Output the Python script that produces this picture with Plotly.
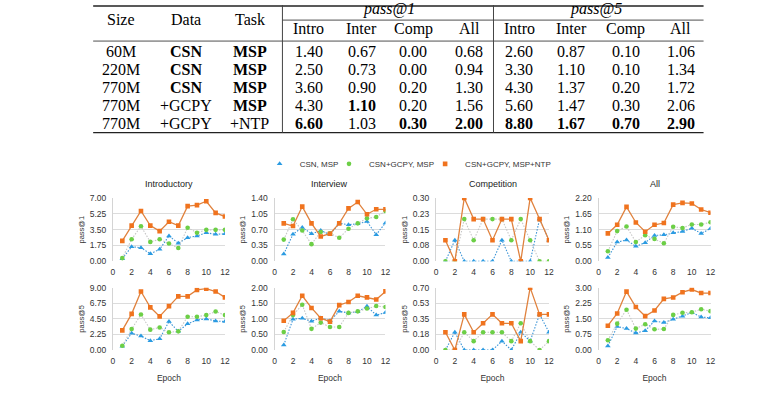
import plotly.graph_objects as go

# ---------------- Table data ----------------
table_size = ["60M", "220M", "770M", "770M", "770M"]
table_data = ["CSN", "CSN", "CSN", "+GCPY", "+GCPY"]
table_task = ["MSP", "MSP", "MSP", "MSP", "+NTP"]
metric_names = ["Intro", "Inter", "Comp", "All"]
p1_intro = [1.40, 2.50, 3.60, 4.30, 6.60]
p1_inter = [0.67, 0.73, 0.90, 1.10, 1.03]
p1_comp = [0.00, 0.00, 0.20, 0.20, 0.30]
p1_all = [0.68, 0.94, 1.30, 1.56, 2.00]
p5_intro = [2.60, 3.30, 4.30, 5.60, 8.80]
p5_inter = [0.87, 1.10, 1.37, 1.47, 1.67]
p5_comp = [0.10, 0.10, 0.20, 0.30, 0.70]
p5_all = [1.06, 1.34, 1.72, 2.06, 2.90]

# ---------------- Line chart data ----------------
epochs = list(range(1, 13))
series_names = ["CSN, MSP", "CSN+GCPY, MSP", "CSN+GCPY, MSP+NTP"]
panel_titles = ["Introductory", "Interview", "Competition", "All"]
row_titles = ["pass@1", "pass@5"]

intro_p1_csn = [0.29, 1.62, 1.51, 0.83, 1.33, 2.80, 2.01, 2.62, 2.80, 3.16, 2.98, 3.05]
intro_p1_gcpy = [0.36, 2.44, 3.88, 2.15, 2.44, 1.97, 1.47, 3.72, 3.16, 3.48, 3.48, 3.48]
intro_p1_ntp = [2.26, 3.95, 5.56, 3.95, 3.34, 4.38, 3.95, 6.10, 6.21, 6.64, 5.35, 4.95]

inter_p1_csn = [0.16, 0.60, 0.75, 0.61, 0.68, 0.59, 0.84, 0.81, 0.83, 0.88, 0.59, 0.85]
inter_p1_gcpy = [0.48, 0.93, 0.68, 0.38, 0.65, 0.62, 0.52, 0.72, 0.84, 0.95, 0.98, 1.11]
inter_p1_ntp = [0.84, 0.78, 1.21, 0.84, 0.55, 0.61, 0.84, 1.17, 1.31, 1.04, 1.15, 1.15]

comp_p1_csn = [0.00, 0.10, 0.00, 0.00, 0.00, 0.00, 0.10, 0.00, 0.00, 0.00, 0.20, 0.10]
comp_p1_gcpy = [0.00, 0.00, 0.20, 0.10, 0.20, 0.20, 0.20, 0.10, 0.20, 0.10, 0.00, 0.00]
comp_p1_ntp = [0.10, 0.00, 0.30, 0.20, 0.20, 0.10, 0.20, 0.20, 0.00, 0.30, 0.20, 0.10]

all_p1_csn = [0.13, 0.67, 0.74, 0.52, 0.65, 0.90, 0.92, 0.99, 1.04, 1.15, 0.97, 1.14]
all_p1_gcpy = [0.35, 1.05, 1.21, 0.67, 0.91, 0.78, 0.63, 1.20, 1.16, 1.28, 1.28, 1.36]
all_p1_ntp = [0.97, 1.27, 1.89, 1.35, 1.03, 1.27, 1.33, 1.97, 2.03, 2.01, 1.80, 1.69]

intro_p5_csn = [0.56, 2.42, 2.01, 1.35, 1.63, 4.10, 2.70, 3.78, 4.34, 4.48, 4.20, 4.10]
intro_p5_gcpy = [0.61, 3.03, 5.13, 2.94, 3.26, 2.56, 2.70, 4.80, 4.80, 5.04, 5.55, 5.04]
intro_p5_ntp = [2.84, 5.22, 8.44, 6.16, 4.85, 6.34, 7.74, 7.74, 8.67, 8.86, 8.44, 7.60]

inter_p5_csn = [0.16, 0.99, 1.02, 0.92, 1.03, 0.94, 1.24, 1.19, 1.23, 1.40, 1.12, 1.20]
inter_p5_gcpy = [0.58, 1.12, 1.45, 0.68, 0.88, 0.74, 0.74, 1.19, 1.24, 1.33, 1.41, 1.38]
inter_p5_ntp = [0.94, 1.19, 1.74, 1.35, 1.02, 0.91, 1.44, 1.54, 1.74, 1.69, 1.62, 1.88]

comp_p5_csn = [0.00, 0.20, 0.00, 0.00, 0.00, 0.00, 0.10, 0.00, 0.20, 0.10, 0.40, 0.20]
comp_p5_gcpy = [0.00, 0.00, 0.20, 0.10, 0.20, 0.20, 0.20, 0.10, 0.30, 0.10, 0.00, 0.10]
comp_p5_ntp = [0.20, 0.00, 0.40, 0.20, 0.30, 0.40, 0.30, 0.30, 0.10, 0.70, 0.40, 0.40]

all_p5_csn = [0.19, 1.13, 1.03, 0.82, 0.93, 1.40, 1.32, 1.48, 1.63, 1.80, 1.59, 1.55]
all_p5_gcpy = [0.47, 1.27, 1.94, 1.03, 1.24, 1.00, 1.01, 1.69, 1.79, 1.82, 1.96, 1.87]
all_p5_ntp = [1.17, 1.76, 2.81, 2.07, 1.63, 1.90, 2.46, 2.53, 2.78, 2.91, 2.74, 2.74]

# y-axis maxima (tick labels are 0, 1/4, 1/2, 3/4, 1 of these)
y_max_p1 = [7.00, 1.40, 0.30, 2.20]
y_max_p5 = [9.00, 2.00, 0.70, 3.00]
x_ticks = [0, 2, 4, 6, 8, 10, 12]

panels = [
    [(intro_p1_csn, intro_p1_gcpy, intro_p1_ntp), (inter_p1_csn, inter_p1_gcpy, inter_p1_ntp),
     (comp_p1_csn, comp_p1_gcpy, comp_p1_ntp), (all_p1_csn, all_p1_gcpy, all_p1_ntp)],
    [(intro_p5_csn, intro_p5_gcpy, intro_p5_ntp), (inter_p5_csn, inter_p5_gcpy, inter_p5_ntp),
     (comp_p5_csn, comp_p5_gcpy, comp_p5_ntp), (all_p5_csn, all_p5_gcpy, all_p5_ntp)],
]
y_max_rows = [y_max_p1, y_max_p5]

# ---------------- Layout constants ----------------
W, H = 770, 395
col_px = [(112, 225), (275, 387), (438, 552), (602, 715)]
row_px = [(198, 263), (290, 354)]

marker_colors = ["#2A9BE2", "#6CCF46", "#F0731E"]
line_colors = ["#3A93D6", "#C6C6C6", "#E0823E"]
line_dash = ["1.5px,1.5px", "1.5px,1.5px", "solid"]
line_width = [1.1, 1.1, 1.3]
symbols = ["triangle-up", "circle", "square"]
marker_size = [5, 4.6, 4.6]
legend_ids = ["legend", "legend2", "legend3"]
legend_left_px = [260, 330, 427]

SANS = "Liberation Sans, Arial, Helvetica, sans-serif"
SERIF = "Liberation Serif, Times New Roman, serif"


def px_x(v):
    return v / W


def px_y(v):
    return 1 - v / H


fig = go.Figure()
layout = {}
annotations = []
shapes = []

n = 0
for r in range(2):
    for c in range(4):
        n += 1
        xa = "x" if n == 1 else f"x{n}"
        ya = "y" if n == 1 else f"y{n}"
        series = panels[r][c]
        for s in range(3):
            fig.add_trace(go.Scatter(
                x=epochs, y=series[s], name=series_names[s],
                mode="lines+markers",
                line=dict(color=line_colors[s], width=line_width[s], dash=line_dash[s]),
                marker=dict(symbol=symbols[s], size=marker_size[s], color=marker_colors[s]),
                xaxis=xa, yaxis=ya, showlegend=False,
            ))
        m = y_max_rows[r][c]
        yt = [m * k / 4 for k in range(5)]
        x0, x1 = col_px[c]
        y0, y1 = row_px[r]
        layout[("xaxis" if n == 1 else f"xaxis{n}")] = dict(
            domain=[px_x(x0), px_x(x1)], anchor=ya, range=[0, 12],
            tickvals=x_ticks, showgrid=False, zeroline=False, showline=False,
            ticks="", tickfont=dict(family=SANS, size=8.5, color="#333"),
            ticklabelstandoff=4,
            title=dict(text="Epoch" if r == 1 else "", font=dict(family=SANS, size=8.5, color="#333"),
                       standoff=10),
        )
        layout[("yaxis" if n == 1 else f"yaxis{n}")] = dict(
            domain=[px_y(y1), px_y(y0)], anchor=xa, range=[0, m],
            tickvals=yt, ticktext=[f"{v + 1e-9:.2f}" for v in yt],
            showgrid=True, gridcolor="#DCDCDC", gridwidth=1,
            zeroline=False, showline=True, linecolor="#D4D4D4", linewidth=1,
            ticks="", tickfont=dict(family=SANS, size=8.5, color="#333"),
            ticklabelstandoff=4,
            title=dict(text=row_titles[r], font=dict(family=SANS, size=7.5, color="#333"), standoff=4),
        )
        if r == 0:
            annotations.append(dict(
                text=panel_titles[c], x=px_x((x0 + x1) / 2), y=px_y(184),
                xref="paper", yref="paper", xanchor="center", yanchor="middle",
                showarrow=False, font=dict(family=SANS, size=9, color="#222"),
            ))

# legend-only entries (markers only), one small legend per series
for s in range(3):
    fig.add_trace(go.Scatter(
        x=[None], y=[None], name=series_names[s], mode="markers",
        marker=dict(symbol=symbols[s], size=marker_size[s], color=marker_colors[s]),
        showlegend=True, legend=legend_ids[s], xaxis="x", yaxis="y",
    ))
    layout[legend_ids[s]] = dict(
        x=px_x(legend_left_px[s]), y=px_y(163), xanchor="left", yanchor="middle",
        font=dict(family=SANS, size=8, color="#333"), bgcolor="rgba(0,0,0,0)",
        borderwidth=0, orientation="h",
    )

# ---------------- Table ----------------
col_x_left = [120, 186, 250]
col_x_p1 = [309.5, 363, 415, 471.5]
col_x_p5 = [522, 574.5, 629.5, 685]
row_y = [47.5, 66, 84.5, 103, 121.5]
head1_y, head2_y, head_mid = 4.5, 24.5, 15
tfont = dict(family=SERIF, size=16, color="#000")


def tann(text, x, y, bold=False, italic=False):
    t = text
    if bold:
        t = f"<b>{t}</b>"
    if italic:
        t = f"<i>{t}</i>"
    annotations.append(dict(text=t, x=px_x(x), y=px_y(y), xref="paper", yref="paper",
                            xanchor="center", yanchor="middle", showarrow=False, font=tfont))


for label, x in zip(["Size", "Data", "Task"], col_x_left):
    tann(label, x, head_mid)
tann("pass@1", sum(col_x_p1) / 4 + 0.5, head1_y, italic=True)
tann("pass@5", sum(col_x_p5) / 4 - 3, head1_y, italic=True)
for name, x in zip(metric_names, col_x_p1):
    tann(name, x, head2_y)
for name, x in zip(metric_names, col_x_p5):
    tann(name, x, head2_y)

for i in range(5):
    tann(table_size[i], col_x_left[0], row_y[i])
    tann(table_data[i], col_x_left[1], row_y[i], bold=(table_data[i] == "CSN"))
    tann(table_task[i], col_x_left[2], row_y[i], bold=(table_task[i] == "MSP"))

for cols, xs in ((
        (p1_intro, p1_inter, p1_comp, p1_all), col_x_p1),
        ((p5_intro, p5_inter, p5_comp, p5_all), col_x_p5)):
    for vals, x in zip(cols, xs):
        best = max(vals)
        for i, v in enumerate(vals):
            tann(f"{v:.2f}", x, row_y[i], bold=(v == best))


def hline(x0, x1, y, w):
    shapes.append(dict(type="line", xref="paper", yref="paper", x0=px_x(x0), x1=px_x(x1),
                       y0=px_y(y), y1=px_y(y), line=dict(color="#222", width=w)))


def vline(x, y0, y1, w):
    shapes.append(dict(type="line", xref="paper", yref="paper", x0=px_x(x), x1=px_x(x),
                       y0=px_y(y0), y1=px_y(y1), line=dict(color="#444", width=w)))


hline(92, 708, 1, 1.5)
hline(283, 708, 15.5, 0.8)
hline(92, 708, 37, 0.8)
hline(92, 708, 131, 1.3)
vline(283, 0, 131, 1)
vline(496, 0, 131, 1)

fig.update_layout(
    width=W, height=H, autosize=False,
    margin=dict(l=0, r=0, t=0, b=0),
    paper_bgcolor="white", plot_bgcolor="white",
    showlegend=True,
    annotations=annotations, shapes=shapes,
    **layout,
)

fig.write_html(
    "out.html",
    config={"displayModeBar": False},
    post_script="document.body.style.margin='0px';document.body.style.padding='0px';",
)
